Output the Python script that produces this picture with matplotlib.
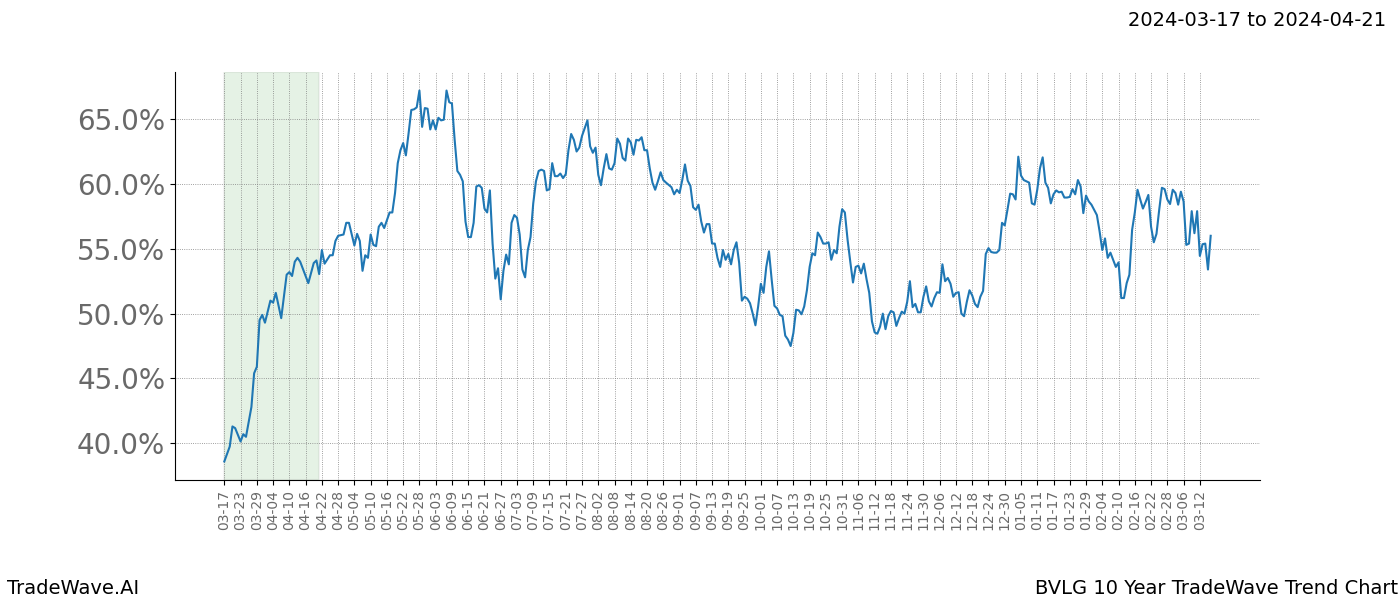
import matplotlib
matplotlib.use('Agg')
from matplotlib import pyplot as plt
import matplotlib.dates as mdates
import pandas as pd

start = '2024-03-17'
span_end = '2024-04-21'

# days after the start date, and the trend value (%) on that day
days = [0, 2, 3, 4, 6, 7, 8, 10, 11, 12, 13, 14, 15, 17, 18, 19, 21, 23, 24, 25,
        26, 27, 28, 31, 33, 34, 35, 36, 37, 39, 40, 41, 42, 44, 45, 46, 48, 49, 50, 51,
        52, 53, 54, 55, 56, 57, 58, 59, 61, 62, 63, 64, 65, 66, 67, 68, 69, 70, 71, 72,
        73, 74, 75, 76, 77, 78, 79, 80, 81, 82, 83, 84, 85, 86, 87, 88, 89, 90, 91, 92,
        93, 94, 95, 96, 97, 98, 99, 100, 101, 102, 103, 104, 105, 106, 107, 108, 109, 110, 111, 112,
        113, 114, 115, 116, 117, 118, 119, 120, 121, 122, 123, 124, 125, 126, 127, 128, 129, 130, 131, 132,
        134, 135, 136, 137, 138, 139, 140, 141, 142, 143, 144, 145, 146, 147, 148, 149, 150, 151, 152, 153,
        154, 155, 156, 157, 158, 159, 160, 161, 162, 163, 165, 166, 167, 168, 169, 170, 171, 172, 173, 174,
        175, 176, 177, 178, 179, 180, 181, 182, 183, 184, 185, 186, 187, 188, 189, 190, 191, 192, 193, 194,
        195, 196, 197, 198, 199, 200, 201, 202, 203, 204, 205, 206, 207, 208, 209, 210, 211, 212, 213, 214,
        215, 216, 217, 218, 219, 220, 221, 222, 223, 224, 225, 226, 227, 228, 229, 230, 231, 232, 233, 234,
        235, 236, 237, 238, 239, 240, 241, 242, 243, 244, 245, 246, 247, 248, 249, 250, 251, 252, 253, 254,
        255, 256, 257, 258, 259, 260, 261, 262, 263, 264, 265, 266, 267, 268, 269, 270, 271, 272, 273, 274,
        275, 276, 277, 278, 279, 280, 281, 282, 283, 284, 285, 286, 287, 288, 289, 290, 291, 292, 293, 294,
        295, 296, 297, 298, 299, 300, 301, 302, 303, 304, 305, 306, 307, 308, 309, 310, 311, 312, 313, 314,
        315, 316, 317, 318, 319, 320, 321, 322, 323, 324, 325, 326, 327, 328, 329, 330, 331, 332, 333, 334,
        335, 336, 337, 338, 339, 340, 341, 342, 343, 344, 345, 346, 347, 348, 349, 350, 351, 352, 353, 354,
        355, 356, 357, 358, 359, 360, 361, 362, 363, 364]
values = [38.6, 39.75, 41.3, 41.17, 40.14, 40.7, 40.5, 42.8, 45.4, 45.9, 49.5, 49.9, 49.3, 51.0, 50.85, 51.6, 49.65, 53.0, 53.2, 52.9,
          54.0, 54.3, 54.0, 52.35, 53.9, 54.1, 53.05, 54.9, 53.85, 54.5, 54.5, 55.6, 56.0, 56.1, 57.0, 57.0, 55.25, 56.15, 55.6, 53.3,
          54.5, 54.3, 56.1, 55.3, 55.2, 56.7, 57.0, 56.6, 57.8, 57.8, 59.3, 61.6, 62.6, 63.15, 62.2, 63.9, 65.7, 65.75, 65.9, 67.2,
          64.4, 65.85, 65.8, 64.2, 64.9, 64.2, 65.1, 64.9, 64.95, 67.2, 66.3, 66.2, 63.4, 61.0, 60.7, 60.2, 57.1, 55.9, 55.9, 57.0,
          59.8, 59.9, 59.7, 58.1, 57.8, 59.5, 55.4, 52.7, 53.5, 51.1, 53.3, 54.55, 53.8, 57.0, 57.6, 57.4, 56.1, 53.4, 52.8, 54.9,
          55.9, 58.5, 60.2, 61.0, 61.1, 61.0, 59.5, 59.6, 61.6, 60.6, 60.6, 60.8, 60.45, 60.75, 62.6, 63.85, 63.4, 62.5, 62.8, 63.7,
          64.9, 62.9, 62.4, 62.8, 60.7, 59.9, 61.2, 62.3, 61.2, 61.1, 61.6, 63.5, 63.1, 62.0, 61.8, 63.5, 63.2, 62.25, 63.4, 63.35,
          63.6, 62.6, 62.6, 61.2, 60.1, 59.55, 60.2, 60.9, 60.3, 60.1, 59.75, 59.2, 59.55, 59.3, 60.3, 61.5, 60.25, 59.85, 58.2, 58.0,
          58.4, 57.1, 56.25, 56.9, 56.9, 55.4, 55.4, 54.3, 53.6, 54.9, 54.15, 54.6, 53.8, 54.9, 55.5, 53.9, 51.0, 51.3, 51.15, 50.8,
          50.0, 49.1, 50.55, 52.3, 51.6, 53.6, 54.8, 52.6, 50.6, 50.4, 49.9, 49.8, 48.3, 48.0, 47.5, 48.5, 50.3, 50.25, 49.95, 50.55,
          51.8, 53.6, 54.65, 54.5, 56.25, 55.9, 55.4, 55.4, 55.5, 54.15, 54.9, 54.65, 56.7, 58.05, 57.8, 55.7, 54.0, 52.4, 53.6, 53.7,
          53.1, 53.85, 52.65, 51.6, 49.4, 48.55, 48.45, 49.0, 50.0, 48.8, 49.8, 50.2, 50.1, 49.05, 49.65, 50.15, 50.0, 50.9, 52.5, 50.5,
          50.75, 50.1, 50.1, 51.3, 52.1, 50.95, 50.55, 51.2, 51.65, 51.6, 53.8, 52.5, 52.75, 52.3, 51.3, 51.6, 51.65, 50.0, 49.8, 50.9,
          51.8, 51.4, 50.75, 50.5, 51.3, 51.75, 54.6, 55.05, 54.75, 54.7, 54.7, 54.9, 57.0, 56.8, 58.0, 59.25, 59.2, 58.8, 62.1, 60.65,
          60.3, 60.2, 60.1, 58.5, 58.4, 59.55, 61.2, 62.05, 60.1, 59.7, 58.5, 59.2, 59.5, 59.35, 59.4, 58.95, 58.95, 59.0, 59.6, 59.2,
          60.3, 59.8, 57.75, 59.1, 58.65, 58.4, 58.0, 57.6, 56.35, 54.9, 55.8, 54.3, 54.7, 54.15, 53.6, 53.95, 51.2, 51.2, 52.35, 53.0,
          56.45, 57.8, 59.55, 58.8, 58.1, 58.6, 59.15, 56.7, 55.5, 56.15, 58.0, 59.7, 59.6, 58.8, 58.45, 59.55, 59.3, 58.4, 59.4, 58.65,
          55.3, 55.4, 57.9, 56.2, 57.9, 54.45, 55.35, 55.4, 53.4, 56.0]

dates = pd.Timestamp(start) + pd.to_timedelta(days, unit='D')
ticks = pd.date_range(start, dates[-1], freq='6D')

fig, ax = plt.subplots(figsize=(14, 6), dpi=100)
fig.subplots_adjust(left=0.125, right=0.9, top=0.88, bottom=0.2)

ax.axvspan(pd.Timestamp(start), pd.Timestamp(span_end), facecolor='green', alpha=0.1,
           edgecolor='grey', linewidth=1.5)
ax.plot(dates, values, color='#1f77b4', linewidth=1.5)

ax.set_xticks(ticks)
ax.xaxis.set_major_formatter(mdates.DateFormatter('%m-%d'))
ax.tick_params(axis='x', labelrotation=90, labelsize=10, labelcolor='dimgray')
ax.tick_params(axis='y', labelsize=20, labelcolor='dimgray')
ax.yaxis.set_major_formatter(plt.FuncFormatter(lambda v, p: f'{v:.1f}%'))
ax.grid(True, color='grey', linestyle=':', linewidth=0.6)
ax.spines['top'].set_visible(False)
ax.spines['right'].set_visible(False)

fig.text(0.99, 0.965, '2024-03-17 to 2024-04-21', ha='right', va='center', fontsize=14)
fig.text(0.005, 0.02, 'TradeWave.AI', ha='left', va='center', fontsize=14)
fig.text(0.999, 0.02, 'BVLG 10 Year TradeWave Trend Chart', ha='right', va='center', fontsize=14)

fig.savefig('out.png')
